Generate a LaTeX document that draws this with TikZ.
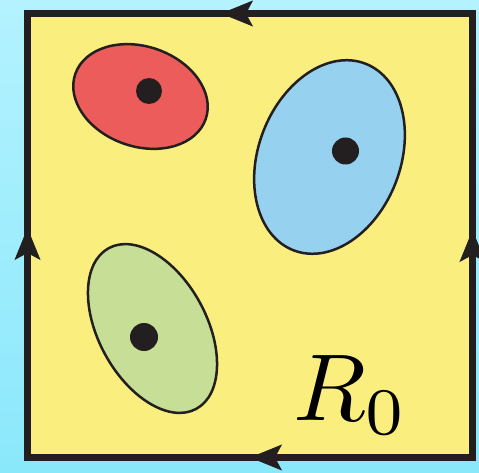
\documentclass[tikz,border=0pt]{standalone}
\usepackage{graphicx}
\usetikzlibrary{arrows.meta}
\definecolor{bgtop}{RGB}{180,242,255}
\definecolor{bgbot}{RGB}{138,232,251}
\definecolor{pale}{RGB}{249,238,126}
\definecolor{ink}{RGB}{35,31,32}
\definecolor{redfill}{RGB}{236,92,90}
\definecolor{bluefill}{RGB}{150,210,240}
\definecolor{greenfill}{RGB}{198,222,150}
\tikzset{
  blob/.style={draw=ink, line width=2.5pt},
  dot/.style={fill=ink},
  edgearrow/.style={draw=ink, fill=ink, line width=0.8pt, -{Stealth[length=32pt,width=26pt,inset=7pt]}},
}
\begin{document}
\begin{tikzpicture}[x=1pt,y=-1pt]
\useasboundingbox (0,0) rectangle (479,473);
\shade[top color=bgtop, bottom color=bgbot] (0,0) rectangle (479,473);
% square region
\draw[draw=ink, fill=pale, line width=7pt, line join=miter] (27.5,13.5) rectangle (472.5,457.5);
% edge arrows
\coordinate (tA) at (255,13.5);  \coordinate (tB) at (221,13.5);
\coordinate (lA) at (27.5,266);  \coordinate (lB) at (27.5,228);
\coordinate (rA) at (472.5,264); \coordinate (rB) at (472.5,230);
\coordinate (bA) at (286,457.5); \coordinate (bB) at (250,457.5);
\draw[edgearrow] (tA) -- (tB);
\draw[edgearrow] (lA) -- (lB);
\draw[edgearrow] (rA) -- (rB);
\draw[edgearrow] (bA) -- (bB);
% red blob
\draw[blob, fill=redfill, rotate around={-19:(140.5,96.5)}] (140.5,96.5) ellipse [x radius=69, y radius=50];
\fill[dot] (149,91) circle [radius=13];
% blue blob
\draw[blob, fill=bluefill, rotate around={69:(329.5,157)}] (329.5,157) ellipse [x radius=100, y radius=71];
\fill[dot] (345.5,151) circle [radius=13.5];
% green blob
\draw[blob, fill=greenfill, rotate around={-61.4:(152.5,328.5)}] (152.5,328.5) ellipse [x radius=91.5, y radius=54];
\fill[dot] (144,337) circle [radius=14];
% label
\node[inner sep=0pt, anchor=base west] (lbl) at (293,420) {\scalebox{9.5}{$R_0$}};
\end{tikzpicture}
\end{document}
